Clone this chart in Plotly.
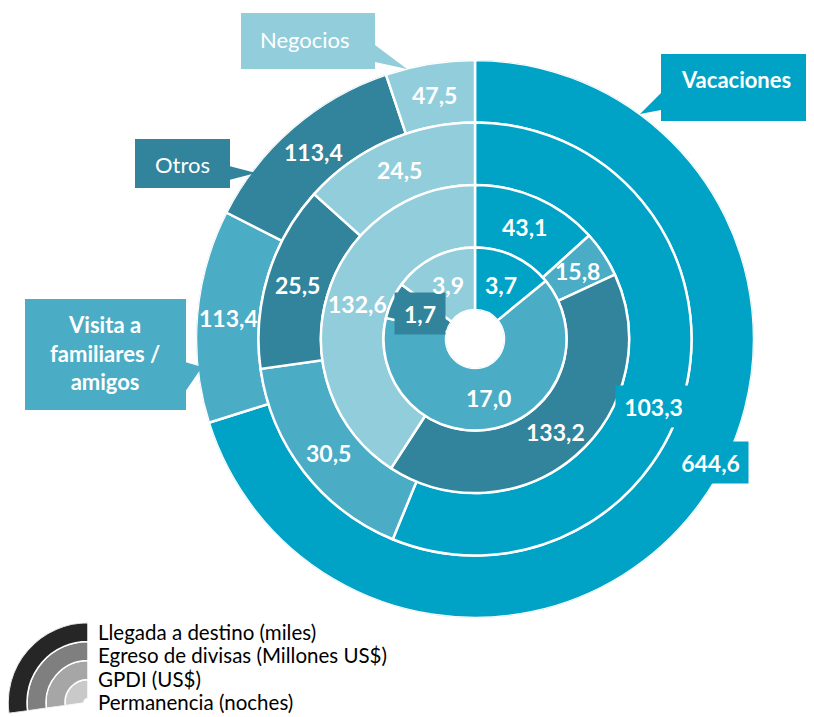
import math
import plotly.graph_objects as go

# ---------------- data ----------------
categories = ["Vacaciones", "Visita a familiares / amigos", "Otros", "Negocios"]
ring_names = ["Llegada a destino (miles)", "Egreso de divisas (Millones US$)",
              "GPDI (US$)", "Permanencia (noches)"]
llegada = [644.6, 113.4, 113.4, 47.5]
egreso = [103.3, 30.5, 25.5, 24.5]
gpdi = [43.1, 15.8, 133.2, 132.6]
permanencia = [3.7, 17.0, 1.7, 3.9]

# ---------------- styles ----------------
colors = ["#00A3C6", "#4BACC6", "#31849B", "#92CDDC"]
legend_grays = ["#262626", "#7F7F7F", "#A6A6A6", "#C9C9C9"]  # outer -> inner
OFF = 8                      # default page body margin
W, H = 814 - OFF, 717 - OFF  # figure size
CX, CY, R_OUT = 475, 339, 279
HOLE = 0.104
N_RINGS = 4
FONT = "Lato"

rings = [llegada, egreso, gpdi, permanencia]          # outer -> inner
ring_base = [3, 2, 1, 0]

def px2paper(x, y):
    return (x - OFF) / W, 1 - (y - OFF) / H

def polar2paper(theta_deg, r_units):
    r0 = R_OUT * HOLE
    rp = r0 + r_units * (R_OUT - r0) / N_RINGS
    a = math.radians(theta_deg)
    return px2paper(CX + rp * math.sin(a), CY - rp * math.cos(a))

def fmt(v):
    return f"{v:.1f}".replace(".", ",")

fig = go.Figure()
annotations = []

# label adjustments (angle offset deg, radial offset ring units) and boxes
label_adjust = {(0, 0): (-8.5, 0.29), (1, 0): (9.5, 0.08)}
label_box = {(0, 0): (75, 41), (1, 0): (75, 41), (3, 2): (50, 41)}

for ri, (vals, base) in enumerate(zip(rings, ring_base)):
    total = sum(vals)
    widths = [v / total * 360 for v in vals]
    thetas, acc = [], 0
    for w in widths:
        thetas.append(acc + w / 2)
        acc += w
    fig.add_trace(go.Barpolar(
        r=[1] * len(vals), base=[base] * len(vals), theta=thetas, width=widths,
        marker=dict(color=colors, line=dict(color="white", width=2.5)),
        hoverinfo="skip", showlegend=False, subplot="polar"))
    for ci, (v, th) in enumerate(zip(vals, thetas)):
        dth, dr = label_adjust.get((ri, ci), (0, 0))
        x, y = polar2paper(th + dth, base + 0.5 + dr)
        ann = dict(x=x, y=y, xref="paper", yref="paper", text=fmt(v),
                   showarrow=False, xanchor="center", yanchor="middle",
                   font=dict(family=FONT, size=23, color="white", weight="bold"))
        if (ri, ci) in label_box:
            bw, bh = label_box[(ri, ci)]
            ann.update(bgcolor=colors[ci], width=bw, height=bh, borderpad=0)
        annotations.append(ann)

dx0, dy1 = px2paper(CX - R_OUT, CY - R_OUT)
dx1, dy0 = px2paper(CX + R_OUT, CY + R_OUT)

# ---------------- legend icon (quarter donut) ----------------
fig.add_trace(go.Barpolar(
    r=[1, 1, 1, 1], base=[0, 1, 2, 3], theta=[139] * 4, width=[98] * 4,
    marker=dict(color=legend_grays[::-1], line=dict(color="white", width=1.5)),
    hoverinfo="skip", showlegend=False, subplot="polar2"))
lx0, ly1 = px2paper(OFF, 619)
lx1, ly0 = px2paper(88, 717)

shapes = []
def rect(x0, y0, x1, y1, color):
    a, b = px2paper(x0, y1)
    c, d = px2paper(x1, y0)
    shapes.append(dict(type="rect", xref="paper", yref="paper", x0=a, y0=b, x1=c, y1=d,
                       fillcolor=color, line=dict(width=0), layer="above"))

def tri(pts, color):
    p = [px2paper(x, y) for x, y in pts]
    path = "M {} {} L {} {} L {} {} Z".format(p[0][0], p[0][1], p[1][0], p[1][1], p[2][0], p[2][1])
    shapes.append(dict(type="path", xref="paper", yref="paper", path=path,
                       fillcolor=color, line=dict(width=0), layer="above"))

def text(x, y, t, size=22, bold=False, color="white", anchor="center"):
    px, py = px2paper(x, y)
    annotations.append(dict(x=px, y=py, xref="paper", yref="paper", text=t, showarrow=False,
                            xanchor=anchor, yanchor="middle", align="center",
                            font=dict(family=FONT, size=size, color=color,
                                      weight="bold" if bold else "normal")))

# callouts
rect(661, 54, 820, 121, colors[0]); tri([(661, 93), (640, 114), (661, 110)], colors[0])
text(736, 80, categories[0], bold=True)
rect(241, 13, 375, 69, colors[3]); tri([(375, 45), (407, 69), (375, 62)], colors[3])
text(305, 39, categories[3])
rect(135, 139, 230, 188, colors[2]); tri([(229, 166), (256, 173), (229, 180)], colors[2])
text(182, 164, categories[2])
rect(25, 299, 186, 410, colors[1]); tri([(185, 362), (202, 367), (185, 392)], colors[1])
text(105, 353, "Visita a<br>familiares /<br>amigos", bold=True)

# legend labels
for i, name in enumerate(ring_names):
    text(96, 632 + i * 23.3, name, size=20.5, color="black", anchor="left")

fig.update_layout(
    width=W, height=H, margin=dict(l=0, r=0, t=0, b=0),
    paper_bgcolor="white", plot_bgcolor="white", showlegend=False,
    polar=dict(domain=dict(x=[dx0, dx1], y=[dy0, dy1]), hole=HOLE, bgcolor="white",
               radialaxis=dict(range=[0, N_RINGS], visible=False),
               angularaxis=dict(rotation=90, direction="clockwise", visible=False)),
    polar2=dict(domain=dict(x=[max(lx0, 0), lx1], y=[max(ly0, 0), ly1]), sector=[90, 188],
                hole=0.05, bgcolor="white",
                radialaxis=dict(range=[0, 4], visible=False),
                angularaxis=dict(visible=False)),
    annotations=annotations, shapes=shapes,
)
fig.write_html("out.html")
